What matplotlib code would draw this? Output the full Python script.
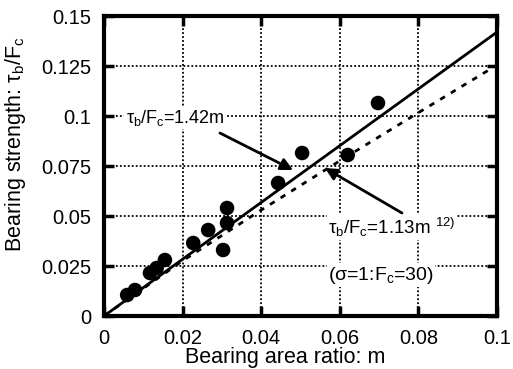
import numpy as np
import matplotlib
matplotlib.use('Agg')
import matplotlib.pyplot as plt

plt.rcParams['font.family'] = ['Liberation Sans', 'DejaVu Sans']
plt.rcParams['mathtext.fontset'] = 'custom'
plt.rcParams['mathtext.rm'] = 'Liberation Sans'
plt.rcParams['mathtext.it'] = 'Liberation Sans'
plt.rcParams['mathtext.bf'] = 'Liberation Sans:bold'

# measured data (bearing area ratio m, bearing strength tau_b/F_c)
m_meas = [0.0059, 0.0079, 0.0117, 0.0134, 0.0155, 0.0227, 0.0265,
          0.0303, 0.0313, 0.0313, 0.0443, 0.0504, 0.0620, 0.0697]
tau_meas = [0.0105, 0.0130, 0.0215, 0.0240, 0.0280, 0.0365, 0.0430,
            0.0330, 0.0465, 0.0540, 0.0665, 0.0815, 0.0805, 0.1065]

# fit line tau_b/F_c = 1.42 m
fit_x = [0.0, 0.1]
fit_y = [0.0, 0.142]

# reference curve 1.13 m (ref. 12)
ref_x = [0.0, 0.02, 0.04, 0.06, 0.08, 0.1]
ref_y = [0.0, 0.0276, 0.0530, 0.0776, 0.1017, 0.1255]

xticks = [0, 0.02, 0.04, 0.06, 0.08, 0.1]
xticklabels = ['0', '0.02', '0.04', '0.06', '0.08', '0.1']
yticks = [0, 0.025, 0.05, 0.075, 0.1, 0.125, 0.15]
yticklabels = ['0', '0.025', '0.05', '0.075', '0.1', '0.125', '0.15']

fs = 13.5

fig = plt.figure(figsize=(5.13, 3.69), dpi=100)
ax = fig.add_axes([0.2027, 0.1436, 0.7663, 0.813])

ax.grid(True, color='black', linestyle=(0, (1, 1.2)), linewidth=1.3)
ax.set_axisbelow(True)

ax.plot(fit_x, fit_y, color='black', linewidth=2.0, zorder=3)
ax.plot(ref_x, ref_y, color='black', linewidth=2.0, linestyle=(0, (2, 2.5)), zorder=3)
ax.scatter(m_meas, tau_meas, s=110, color='black', zorder=4, edgecolors='none')

ax.set_xlim(0, 0.1)
ax.set_ylim(0, 0.15)
ax.set_xticks(xticks)
ax.set_xticklabels(xticklabels)
ax.set_yticks(yticks)
ax.set_yticklabels(yticklabels)
ax.tick_params(direction='in', length=7, width=2.5, labelsize=14.5,
               top=True, right=True)
ax.tick_params(axis='x', pad=9)
ax.tick_params(axis='y', pad=9)
for sp in ax.spines.values():
    sp.set_linewidth(3)

ax.set_xlabel('Bearing area ratio: m', fontsize=15.5)
ax.set_ylabel(r'Bearing strength: $\tau_b/F_c$', fontsize=15.5)
ax.xaxis.set_label_coords(0.462, -0.103)
ax.yaxis.set_label_coords(-0.193, 0.573)

box = dict(facecolor='white', edgecolor='none', pad=1)
ax.text(0.0055, 0.099, r'$\tau_b/F_c$=1.42m', fontsize=fs - 0.5, bbox=box,
        va='center', ha='left')
ax.annotate('', xy=(0.0481, 0.0730), xytext=(0.0295, 0.0915),
            arrowprops=dict(arrowstyle='-|>', color='black', lw=2,
                            mutation_scale=18, shrinkA=0, shrinkB=0))
ax.text(0.057, 0.0445, r'$\tau_b/F_c$=1.13m $^{12)}$', fontsize=fs, bbox=box,
        va='center', ha='left')
ax.annotate('', xy=(0.0562, 0.0740), xytext=(0.0758, 0.0515),
            arrowprops=dict(arrowstyle='-|>', color='black', lw=2,
                            mutation_scale=18, shrinkA=0, shrinkB=0))
ax.text(0.057, 0.0205, r'($\sigma$=1:F$_c$=30)', fontsize=fs + 0.5, bbox=box,
        va='center', ha='left')

fig.savefig('out.png', dpi=100)
